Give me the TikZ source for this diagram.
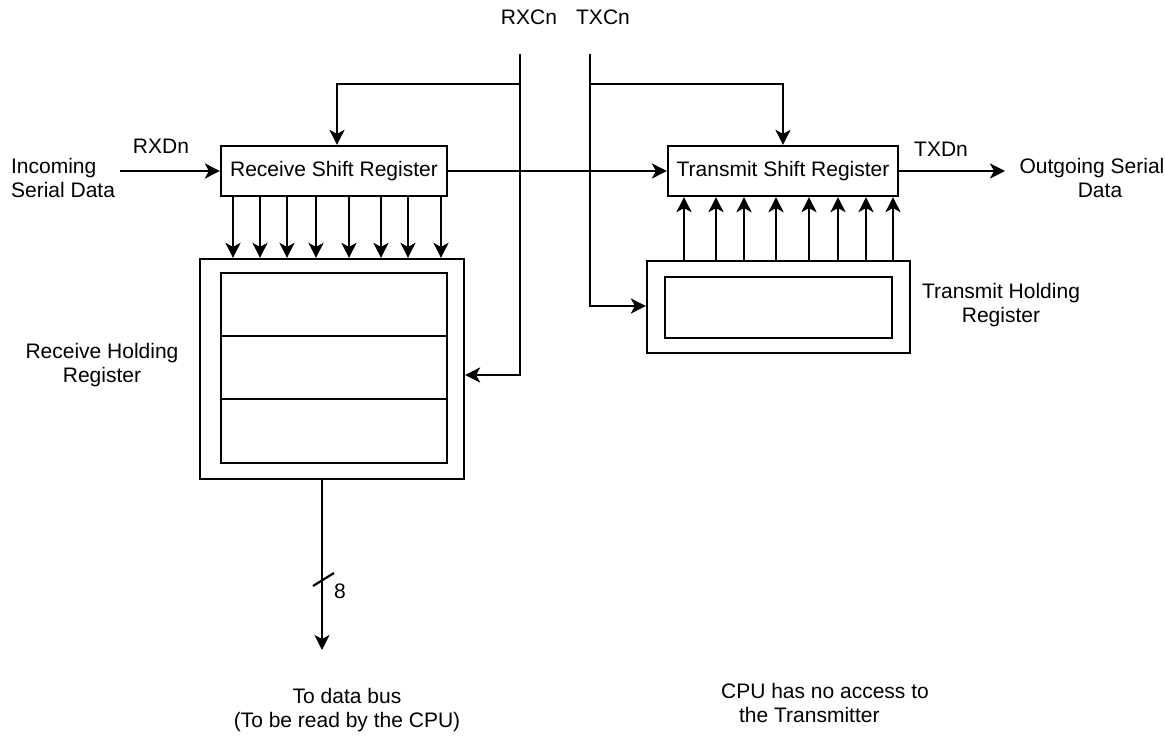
\documentclass[tikz,border=0pt]{standalone}
\usepackage{fontspec}
\setmainfont{Liberation Sans}
\usetikzlibrary{arrows.meta}
\begin{document}
\begin{tikzpicture}[x=1pt,y=-1pt, line width=2.2pt,
  every node/.style={font=\fontsize{21}{24}\selectfont, inner sep=0pt},
  regbox/.style={draw, line width=2.2pt, minimum width=#1},
  arr/.style={-{Stealth[length=15pt,width=15pt,inset=4pt]}}]
\useasboundingbox (0,0) rectangle (1165,736);

% registers
\node[regbox=226pt, minimum height=50pt] (rsr) at (334,171) {Receive Shift Register};
\node[regbox=230pt, minimum height=50pt] (tsr) at (783,171) {Transmit Shift Register};
\node[regbox=264pt, minimum height=220pt] (rho) at (332,369) {};
\node[regbox=226pt, minimum height=63pt] (rc1) at (334,304.5) {};
\node[regbox=226pt, minimum height=63pt] (rc2) at (334,367.5) {};
\node[regbox=226pt, minimum height=64pt] (rc3) at (334,431) {};
\node[regbox=263pt, minimum height=92pt] (tho) at (778.5,307) {};
\node[regbox=227pt, minimum height=61pt] (thi) at (778.5,307.5) {};

% labels
\node (rxcl) at (529,17) {RXCn};
\node (txcl) at (603,17) {TXCn};
\node (rxdl) at (161,146) {RXDn};
\node (txdl) at (941,149) {TXDn};
\node[align=left, anchor=west] (incl) at (10,178) {Incoming\\Serial Data};
\node[align=center] (outl) at (1092,178) {Outgoing Serial\\\hspace*{16pt}Data};
\node[align=center] (rhol) at (102,365) {Receive Holding\\Register};
\node[align=center] (thol) at (1001,305) {Transmit Holding\\Register};
\node[align=center] (busl) at (347,710) {To data bus\\(To be read by the CPU)};
\node[align=left, anchor=west] (cpul) at (720,703) {CPU has no access to\\\hspace*{18pt}the Transmitter};
\node[anchor=west] (eight) at (333,591) {8};

% coordinates
\coordinate (rxtop) at (520,54);
\coordinate (txtop) at (590,54);
\coordinate (rxb) at (520,84);
\coordinate (txb) at (590,84);
\coordinate (rxin) at (520,375);
\coordinate (txin) at (590,306);
\coordinate (rxbx) at (337,0);
\coordinate (inc) at (120,171);
\coordinate (txout) at (1005,171);
\coordinate (busx) at (322,0);
\coordinate (busend) at (322,650);
\coordinate (sl1) at (313,586);
\coordinate (sl2) at (334,573);

% clock lines
\draw[arr] (rxtop) -- (rxin) -- (rho.east |- rxin);
\draw[arr] (rxb) -| (rsr.north -| rxbx);
\draw[arr] (txtop) -- (txin) -- (tho.west |- txin);
\draw[arr] (txb) -| (tsr.north);

% data paths
\draw[arr] (inc) -- (rsr.west);
\draw[arr] (rsr.east) -- (tsr.west);
\draw[arr] (tsr.east) -- (txout);
\foreach \x in {233,260,287,316,349,381,408,441}{
  \coordinate (d) at (\x,0);
  \draw[arr] (rsr.south -| d) -- (rho.north -| d);
}
\foreach \x in {684,716,744,776,809,838,866,893}{
  \coordinate (u) at (\x,0);
  \draw[arr] (tho.north -| u) -- (tsr.south -| u);
}
\draw[arr] (rho.south -| busx) -- (busend);
\draw (sl1) -- (sl2);
\end{tikzpicture}
\end{document}
